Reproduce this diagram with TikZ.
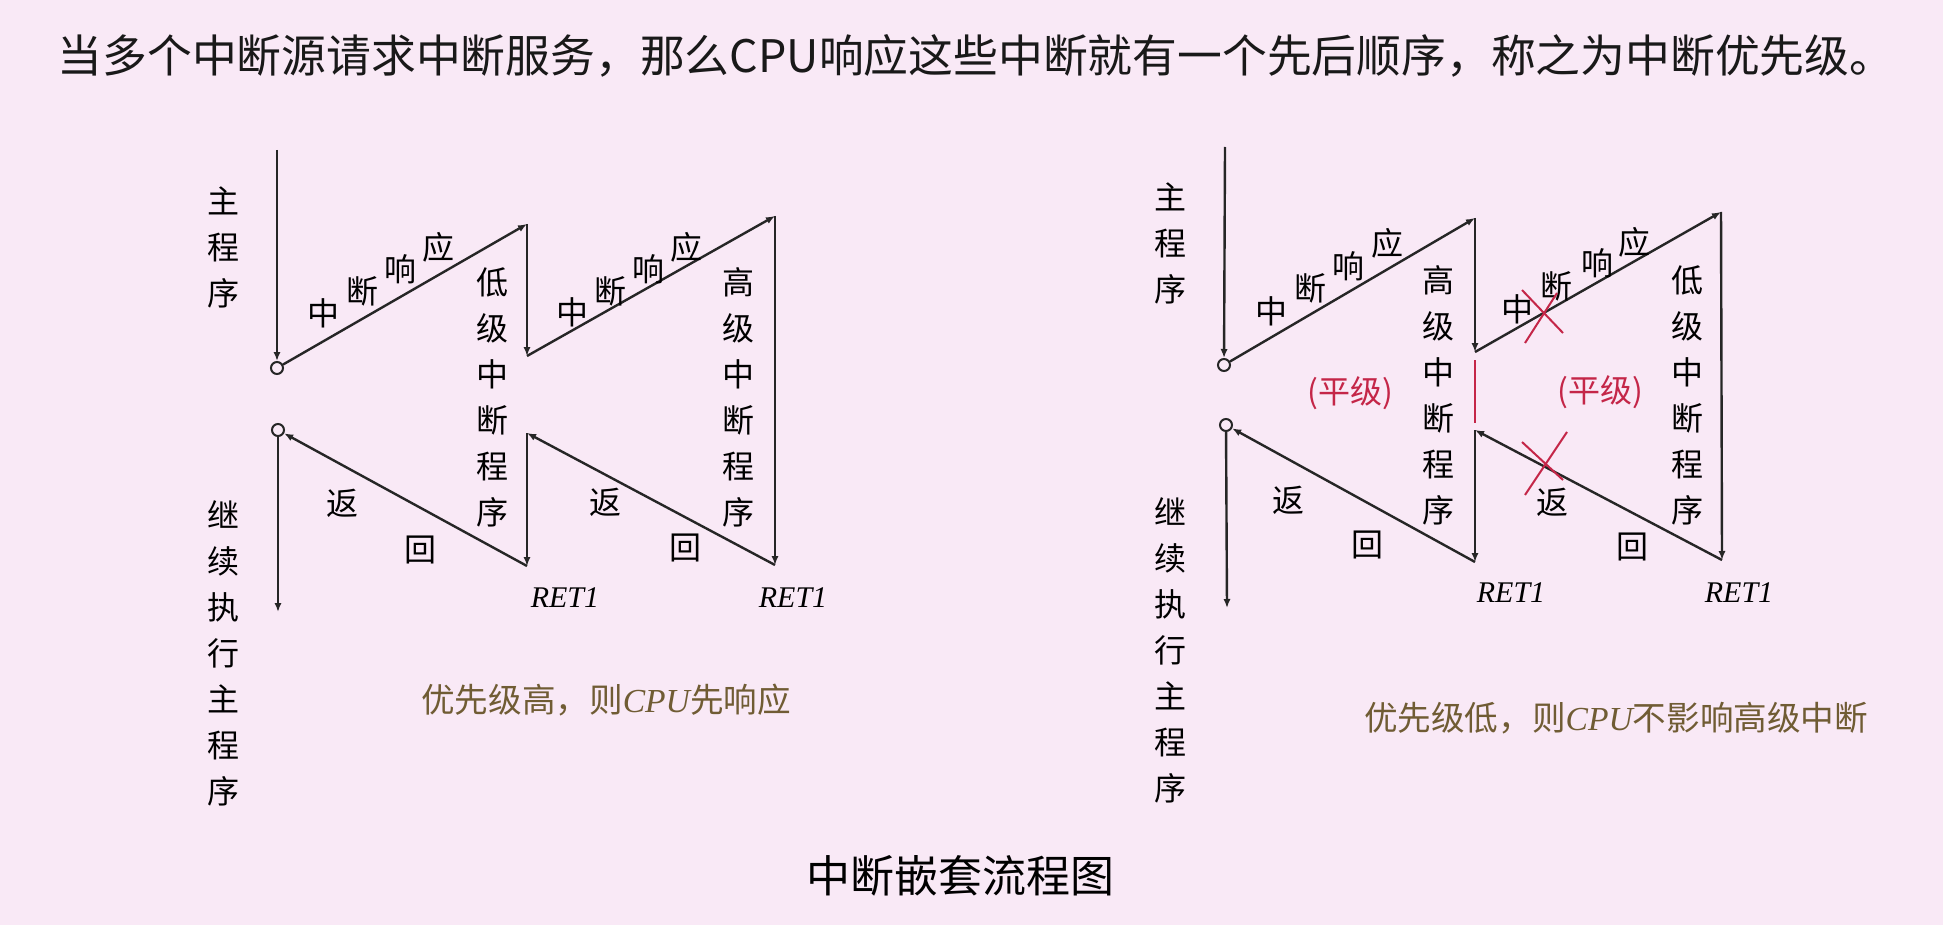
\documentclass[tikz,border=0pt]{standalone}
\usepackage{fontspec}
\setmainfont{Noto Sans CJK SC}
\newfontfamily\retfont{Liberation Serif}
\usetikzlibrary{arrows.meta, calc}

\definecolor{bgpink}{RGB}{249,233,246}
\definecolor{markred}{RGB}{196,38,72}
\definecolor{noteink}{RGB}{112,92,52}

\begin{document}
\begin{tikzpicture}[x=0.5pt, y=-0.5pt,
  >={Latex[length=4.5pt,width=3.6pt]},
  flow/.style={->, line width=1.2pt, black!85},
  hub/.style={circle, draw=black!85, line width=1pt, fill=bgpink, inner sep=0pt, minimum size=6pt},
  chr/.style={font=\fontsize{16}{23}\selectfont, inner sep=0pt},
  col/.style={chr, align=center},
  ret/.style={font=\retfont\itshape\fontsize{15}{18}\selectfont, inner sep=0pt},
  note/.style={font=\fontsize{16.8}{19}\selectfont, text=noteink, inner sep=0pt},
  flat/.style={chr, text=markred},
  cross/.style={markred, line width=1pt}]

\fill[bgpink] (0,0) rectangle (1943,925);
\useasboundingbox (0,0) rectangle (1943,925);

%-- headline and caption
\node[font=\fontsize{22.4}{26}\selectfont, text=black!90] (head) at (976,56)
  {当多个中断源请求中断服务，那么CPU响应这些中断就有一个先后顺序，称之为中断优先级。};
\node[font=\fontsize{22}{24}\selectfont] (caption) at (960,876) {中断嵌套流程图};

%-- left: low level first, then high level
\coordinate (L0) at (277,150);
\node[hub] (Lh1) at (277,368) {};
\coordinate (La) at (527,224);
\coordinate (Lb) at (527,356);
\coordinate (Lc) at (775,216);
\coordinate (Ld) at (775,565);
\coordinate (Le) at (527,433);
\coordinate (Lf) at (527,566);
\node[hub] (Lh2) at (278,430) {};
\coordinate (Lz) at (278,612);

\foreach \a/\b in {L0/Lh1, Lh1/La, La/Lb, Lb/Lc, Lc/Ld, Ld/Le, Le/Lf, Lf/Lh2, Lh2/Lz}
  \draw[flow] (\a) -- (\b);

\node[col] (Lmain) at (223,247) {主\\程\\序};
\node[col] (Lback) at (223,653) {继\\续\\执\\行\\主\\程\\序};
\node[col] (Llow)  at (492,397) {低\\级\\中\\断\\程\\序};
\node[col] (Lhigh) at (738,397) {高\\级\\中\\断\\程\\序};

\foreach \ch/\pos [count=\k] in {中/0.185, 断/0.34, 响/0.492, 应/0.645}
  \node[chr] (Lq1-\k) at ($(Lh1)!\pos!(La)+(0,-28)$) {\ch};
\foreach \ch/\pos [count=\k] in {中/0.185, 断/0.335, 响/0.488, 应/0.645}
  \node[chr] (Lq2-\k) at ($(Lb)!\pos!(Lc)+(0,-18)$) {\ch};

\node[chr] (Lfan1) at (342,503) {返};
\node[chr] (Lhui1) at (420,550) {回};
\node[chr] (Lfan2) at (605,502) {返};
\node[chr] (Lhui2) at (685,548) {回};

\node[ret] (Lret1) at (565,598) {RET1};
\node[ret] (Lret2) at (793,598) {RET1};

\node[note] (Lnote) at (606,700) {优先级高，则{\retfont\itshape CPU}先响应};

%-- right: high level first, low level waits
\coordinate (R0) at (1225,147);
\node[hub] (Rh1) at (1224,365) {};
\coordinate (Ra) at (1475,218);
\coordinate (Rb) at (1475,352);
\coordinate (Rc) at (1721,212);
\coordinate (Rd) at (1722,560);
\coordinate (Re) at (1475,430);
\coordinate (Rf) at (1475,562);
\node[hub] (Rh2) at (1226,425) {};
\coordinate (Rz) at (1227,608);

\foreach \a/\b in {R0/Rh1, Rh1/Ra, Ra/Rb, Rb/Rc, Rc/Rd, Rd/Re, Re/Rf, Rf/Rh2, Rh2/Rz}
  \draw[flow] (\a) -- (\b);
\draw[markred, line width=1.3pt] ($(Rb)+(0,8)$) -- ($(Re)+(0,-7)$);

\node[col] (Rmain) at (1170,243) {主\\程\\序};
\node[col] (Rback) at (1170,650) {继\\续\\执\\行\\主\\程\\序};
\node[col] (Rhigh) at (1438,395) {高\\级\\中\\断\\程\\序};
\node[col] (Rlow)  at (1687,395) {低\\级\\中\\断\\程\\序};

\foreach \ch/\pos [count=\k] in {中/0.19, 断/0.343, 响/0.494, 应/0.65}
  \node[chr] (Rq1-\k) at ($(Rh1)!\pos!(Ra)+(0,-26)$) {\ch};
\foreach \ch/\pos [count=\k] in {中/0.171, 断/0.333, 响/0.496, 应/0.65}
  \node[chr] (Rq2-\k) at ($(Rb)!\pos!(Rc)+(0,-19)$) {\ch};

\node[chr] (Rfan1) at (1288,500) {返};
\node[chr] (Rhui1) at (1367,545) {回};
\node[chr] (Rfan2) at (1552,502) {返};
\node[chr] (Rhui2) at (1632,547) {回};

\node[ret] (Rret1) at (1511,593) {RET1};
\node[ret] (Rret2) at (1739,593) {RET1};

\node[flat] (Rflat1) at (1350,393) {(平级)};
\node[flat] (Rflat2) at (1600,392) {(平级)};

%-- crossed out paths
\draw[cross] (1522,290) -- (1563,333);
\draw[cross] (1525,343) -- (1557,293);
\draw[cross] (1522,442) -- (1563,480);
\draw[cross] (1525,495) -- (1567,432);

\node[note] (Rnote) at (1616,718) {优先级低，则{\retfont\itshape CPU}不影响高级中断};

\end{tikzpicture}
\end{document}
